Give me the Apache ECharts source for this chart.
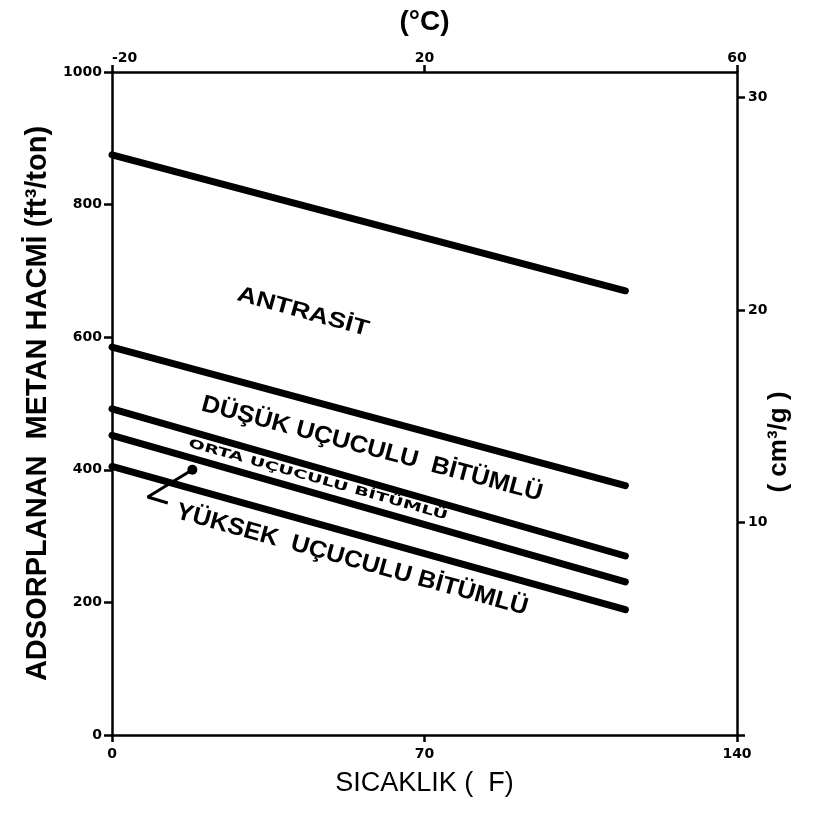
<!DOCTYPE html>
<html>
<head>
<meta charset="utf-8">
<script src="https://cdn.jsdelivr.net/npm/echarts@6/dist/echarts.min.js"></script>
<style>html,body{margin:0;padding:0;background:#fff}#c{width:816px;height:829px}</style>
</head>
<body>
<div id="c"></div>
<script>
// ---- data ----
const tempF = [0, 115];                 // °F, start and end of every curve
const antrasit = [875, 670];            // ft³/ton
const dusukUcuculu = [585, 376];
const ortaUcuculu = [492, 270];
const yuksekUcuculuA = [452, 231];
const yuksekUcuculuB = [405, 189];
const pointerF = [18, 8, 12.5];         // annotation pointer (°F)
const pointerV = [400, 359, 350];       // annotation pointer (ft³/ton)
const xTicksF = [0, 70, 140];
const xTicksC = [-20, 20, 60];
const yTicksLeft = [0, 200, 400, 600, 800, 1000];
const yTicksRight = [10, 20, 30];
const ft3PerTonPerCm3g = 32.04;

const chart = echarts.init(document.getElementById('c'), null, {renderer: 'canvas'});
const black = '#000';
const tickFont = {color: black, fontFamily: 'DejaVu Sans', fontWeight: 'bold', fontSize: 14};
const plain = v => String(v);

function curve(name, vals) {
  return {
    name, type: 'line', xAxisIndex: 0, yAxisIndex: 0,
    data: tempF.map((t, i) => [t, vals[i]]),
    symbol: 'none', silent: true,
    lineStyle: {color: black, width: 7, cap: 'round'}
  };
}

const pointerData = pointerF.map((t, i) => i === 0
  ? {value: [t, pointerV[i]], symbol: 'circle', symbolSize: 10}
  : {value: [t, pointerV[i]], symbol: 'none'});

const option = {
  animation: false,
  backgroundColor: '#fff',
  grid: {left: 112, right: 79, top: 72, bottom: 94},
  xAxis: [
    {
      type: 'value', position: 'bottom', min: xTicksF[0], max: xTicksF[2], interval: xTicksF[1] - xTicksF[0],
      axisLine: {show: true, onZero: false, lineStyle: {color: black, width: 2.5}},
      axisTick: {show: true, length: 7, lineStyle: {color: black, width: 2.5}},
      axisLabel: Object.assign({margin: 12, formatter: plain}, tickFont),
      splitLine: {show: false},
      name: 'SICAKLIK (  F)', nameLocation: 'middle', nameGap: 35,
      nameTextStyle: {color: black, fontFamily: 'Liberation Sans', fontSize: 27}
    },
    {
      type: 'value', position: 'top', min: xTicksC[0], max: xTicksC[2], interval: xTicksC[1] - xTicksC[0],
      axisLine: {show: true, onZero: false, lineStyle: {color: black, width: 2.5}},
      axisTick: {show: true, length: 7, lineStyle: {color: black, width: 2.5}},
      axisLabel: Object.assign({margin: 7, alignMinLabel: 'left', formatter: plain}, tickFont),
      splitLine: {show: false},
      name: '(°C)', nameLocation: 'middle', nameGap: 36,
      nameTextStyle: {color: black, fontFamily: 'Liberation Sans', fontWeight: 'bold', fontSize: 28}
    }
  ],
  yAxis: [
    {
      type: 'value', position: 'left', min: yTicksLeft[0], max: yTicksLeft[yTicksLeft.length - 1],
      interval: yTicksLeft[1] - yTicksLeft[0],
      axisLine: {show: true, onZero: false, lineStyle: {color: black, width: 2.5}},
      axisTick: {show: true, length: 8, lineStyle: {color: black, width: 2.5}},
      axisLabel: Object.assign({margin: 10, formatter: plain}, tickFont),
      splitLine: {show: false},
      name: 'ADSORPLANAN  METAN HACMİ (ft³/ton)', nameLocation: 'middle', nameRotate: 90, nameGap: 56,
      nameTextStyle: {color: black, fontFamily: 'Liberation Sans', fontWeight: 'bold', fontSize: 29}
    },
    {
      type: 'value', position: 'right', min: 0, max: yTicksLeft[yTicksLeft.length - 1] / ft3PerTonPerCm3g,
      interval: yTicksRight[1] - yTicksRight[0],
      axisLine: {show: true, onZero: false, lineStyle: {color: black, width: 2.5}},
      axisTick: {show: true, length: 8, lineStyle: {color: black, width: 2.5}},
      axisLabel: Object.assign({margin: 11, showMaxLabel: false,
        formatter: v => (yTicksRight.indexOf(v) >= 0 ? String(v) : '')}, tickFont),
      splitLine: {show: false}
    }
  ],
  series: [
    curve('ANTRASİT', antrasit),
    curve('DÜŞÜK UÇUCULU BİTÜMLÜ', dusukUcuculu),
    curve('ORTA UÇUCULU BİTÜMLÜ', ortaUcuculu),
    curve('YÜKSEK UÇUCULU BİTÜMLÜ A', yuksekUcuculuA),
    curve('YÜKSEK UÇUCULU BİTÜMLÜ B', yuksekUcuculuB),
    {
      name: 'pointer', type: 'line', xAxisIndex: 0, yAxisIndex: 0, silent: true,
      data: pointerData, itemStyle: {color: black},
      lineStyle: {color: black, width: 3}
    }
  ],
  graphic: [
    {type: 'text', x: 303, y: 312, rotation: -0.27, scaleX: 1.22,
      style: {text: 'ANTRASİT', fill: black, fontFamily: 'Liberation Sans', fontWeight: 'bold', fontSize: 22, align: 'center', verticalAlign: 'middle'}},
    {type: 'text', x: 372, y: 449, rotation: -0.26, scaleX: 1.06,
      style: {text: 'DÜŞÜK UÇUCULU  BİTÜMLÜ', fill: black, fontFamily: 'Liberation Sans', fontWeight: 'bold', fontSize: 24, align: 'center', verticalAlign: 'middle'}},
    {type: 'text', x: 318, y: 480, rotation: -0.275, scaleX: 1.6,
      style: {text: 'ORTA UÇUCULU BİTÜMLÜ', fill: black, fontFamily: 'DejaVu Sans', fontWeight: 'bold', fontSize: 12, align: 'center', verticalAlign: 'middle'}},
    {type: 'text', x: 352, y: 560, rotation: -0.27, scaleX: 1.05,
      style: {text: 'YÜKSEK  UÇUCULU BİTÜMLÜ', fill: black, fontFamily: 'Liberation Sans', fontWeight: 'bold', fontSize: 24, align: 'center', verticalAlign: 'middle'}},
    {type: 'text', x: 779, y: 442, rotation: Math.PI / 2,
      style: {text: '( cm³/g )', fill: black, fontFamily: 'Liberation Sans', fontWeight: 'bold', fontSize: 26, align: 'center', verticalAlign: 'middle'}}
  ]
};
chart.setOption(option);
</script>
</body>
</html>
